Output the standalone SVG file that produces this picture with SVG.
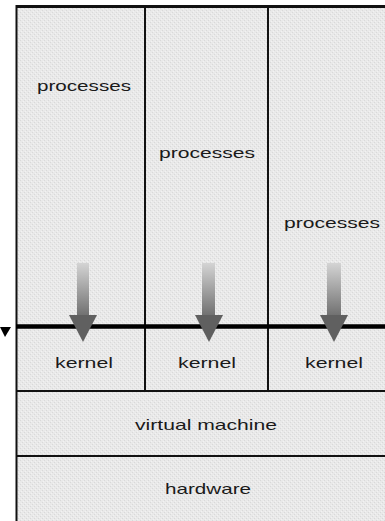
<svg xmlns="http://www.w3.org/2000/svg" width="385" height="521" viewBox="0 0 385 521">
<style>
.t{font-family:"Liberation Sans",Arial,sans-serif;font-size:15px;fill:#1a1a1a;text-anchor:middle}
.ln{stroke:#111;stroke-width:2;fill:none}
.head{fill:#606060}
</style>
<defs>
<pattern id="tex" width="4" height="4" patternUnits="userSpaceOnUse">
<rect width="4" height="4" fill="#e9e9e9"/>
<rect x="0" y="0" width="1" height="1" fill="#d9d9d9"/>
<rect x="2" y="2" width="1" height="1" fill="#d9d9d9"/>
<rect x="1" y="3" width="1" height="1" fill="#f2f2f2"/>
<rect x="3" y="1" width="1" height="1" fill="#f2f2f2"/>
</pattern>
<linearGradient id="shaft" x1="0" y1="0" x2="0" y2="1">
<stop offset="0" stop-color="#d4d4d4"/>
<stop offset="1" stop-color="#6e6e6e"/>
</linearGradient>
</defs>
<rect x="0" y="0" width="385" height="521" fill="#fff"/>
<rect x="16" y="6" width="369" height="515" fill="url(#tex)"/>

<g id="processes1"><text class="t" x="84" y="91" textLength="94" lengthAdjust="spacingAndGlyphs">processes</text></g>
<g id="processes2"><text class="t" x="207" y="158" textLength="96" lengthAdjust="spacingAndGlyphs">processes</text></g>
<g id="processes3"><text class="t" x="332" y="228" textLength="96" lengthAdjust="spacingAndGlyphs">processes</text></g>
<g id="kernel1"><text class="t" x="84" y="368" textLength="58" lengthAdjust="spacingAndGlyphs">kernel</text></g>
<g id="kernel2"><text class="t" x="207" y="368" textLength="58" lengthAdjust="spacingAndGlyphs">kernel</text></g>
<g id="kernel3"><text class="t" x="334" y="368" textLength="58" lengthAdjust="spacingAndGlyphs">kernel</text></g>
<g id="vm"><text class="t" x="206" y="430" textLength="142" lengthAdjust="spacingAndGlyphs">virtual machine</text></g>
<g id="hardware"><text class="t" x="208" y="494" textLength="86" lengthAdjust="spacingAndGlyphs">hardware</text></g>

<g id="grid">
<line class="ln" x1="16.5" y1="5" x2="16.5" y2="521"/>
<line x1="16" y1="6.5" x2="385" y2="6.5" stroke="#111" stroke-width="3"/>
<line class="ln" x1="145" y1="7" x2="145" y2="391"/>
<line class="ln" x1="268" y1="7" x2="268" y2="391"/>
<line class="ln" x1="16" y1="391" x2="385" y2="391"/>
<line class="ln" x1="16" y1="456" x2="385" y2="456"/>
</g>

<g id="connectors">
<rect x="77" y="263" width="12" height="54" fill="url(#shaft)"/>
<rect x="202" y="263" width="13" height="54" fill="url(#shaft)"/>
<rect x="327" y="263" width="14" height="54" fill="url(#shaft)"/>
<line x1="16" y1="326.5" x2="385" y2="326.5" stroke="#000" stroke-width="4.5"/>
<polygon class="head" points="69,315 97,315 83,342"/>
<polygon class="head" points="195,315 223,315 209,342"/>
<polygon class="head" points="320,315 348,315 334,342"/>
<polygon fill="#000" points="0,327 11,327 5,337"/>
</g>
</svg>
